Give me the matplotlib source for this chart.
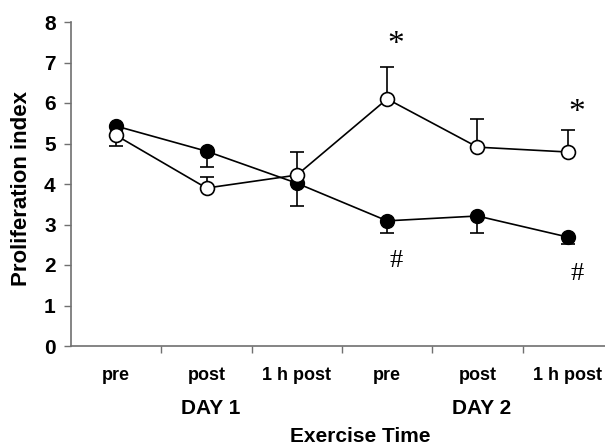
import matplotlib
matplotlib.use("Agg")
import matplotlib.pyplot as plt
import numpy as np

plt.rcParams['font.family'] = ['Liberation Sans', 'DejaVu Sans']

time_labels = ["pre", "post", "1 h post", "pre", "post", "1 h post"]
day_labels = ["DAY 1", "DAY 2"]

# filled circles (error bars drawn downward)
filled_mean = [5.43, 4.81, 4.02, 3.09, 3.21, 2.69]
filled_sem = [0.48, 0.40, 0.56, 0.30, 0.42, 0.17]
# open circles (error bars drawn upward)
open_mean = [5.20, 3.90, 4.22, 6.10, 4.91, 4.79]
open_sem = [0.20, 0.27, 0.57, 0.79, 0.69, 0.54]

star_points = [3, 5]
star_y = [7.45, 5.75]
hash_points = [3, 5]
hash_y = [2.1, 1.78]

x = np.arange(1, len(time_labels) + 1)
zeros = np.zeros(len(x))

fig = plt.figure(figsize=(6.05, 4.45), dpi=100)
ax = fig.add_axes([71 / 605, 1 - 346 / 445, 542 / 605, 324 / 445])

ax.errorbar(x, filled_mean, yerr=[filled_sem, zeros], fmt='-o', color='black',
            mfc='black', mec='black', ms=10, lw=1.2, elinewidth=1.2,
            capsize=5, capthick=1.2, zorder=3)
ax.errorbar(x, open_mean, yerr=[zeros, open_sem], fmt='-o', color='black',
            mfc='white', mec='black', mew=1.2, ms=10, lw=1.2, elinewidth=1.2,
            capsize=5, capthick=1.2, zorder=4)

for i, yv in zip(star_points, star_y):
    ax.text(x[i] + 0.1, yv, "*", ha='center', va='center', fontsize=24,
            family='Liberation Serif')
for i, yv in zip(hash_points, hash_y):
    ax.text(x[i] + 0.1, yv, "#", ha='center', va='center', fontsize=19,
            family='Liberation Serif')

ax.set_xlim(0.5, 6.5)
ax.set_ylim(0, 8)
ax.set_yticks(range(0, 9))
ax.set_yticklabels([str(v) for v in range(0, 9)], fontsize=15, fontweight='bold')
ax.set_xticks(np.arange(1.5, 6.5, 1.0))
ax.set_xticklabels([])
ax.tick_params(axis='both', direction='out', length=5, width=1, color='#707070')
ax.tick_params(axis='y', pad=6)

for s in ['top', 'right']:
    ax.spines[s].set_visible(False)
for s in ['left', 'bottom']:
    ax.spines[s].set_color('#707070')
    ax.spines[s].set_linewidth(1.2)

for xi, lab in zip(x, time_labels):
    ax.annotate(lab, xy=(xi, 0), xycoords=('data', 'axes fraction'),
                xytext=(0, -30), textcoords='offset pixels',
                ha='center', va='center', fontsize=13, fontweight='bold')
for xi, lab in zip([2, 5], day_labels):
    ax.annotate(lab, xy=(xi, 0), xycoords=('data', 'axes fraction'),
                xytext=(4, -62), textcoords='offset pixels',
                ha='center', va='center', fontsize=15, fontweight='bold')

fig.text(360 / 605, 1 - 436 / 445, "Exercise Time", ha='center', va='center',
         fontsize=15, fontweight='bold')
fig.text(22 / 605, 1 - 188 / 445, "Proliferation index", ha='center', va='center',
         rotation=90, fontsize=16, fontweight='bold')

fig.savefig("out.png", dpi=100)
